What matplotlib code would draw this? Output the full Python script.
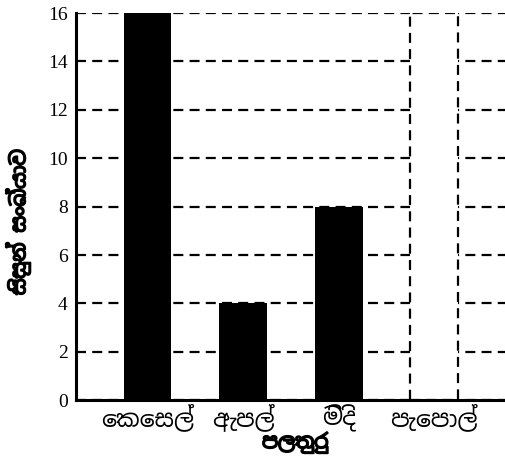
import matplotlib
matplotlib.use("Agg")
import matplotlib.pyplot as plt
import matplotlib.patheffects as pe
from matplotlib.font_manager import FontProperties

GF = "/usr/share/fonts/truetype/google-fonts/"
sin_reg = FontProperties(fname=GF + "NotoSansSinhala[wdth,wght].ttf", size=17)
sin_bold = FontProperties(fname=GF + "NotoSansSinhala[wdth,wght].ttf", size=14.5)
# the Sinhala file is a variable font, so bold is faked with a stroke
heavy = [pe.withStroke(linewidth=1.2, foreground="black")]

# matplotlib 3.10 does no complex shaping, so the prefix vowel signs
# (ෙ, and the ෙ part of ො) are written in visual order
fruits = ["ෙකෙසල්", "ඇපල්", "මිදි", "පැෙපාල්"]
counts = [16, 4, 8, 16]
# last bar is only an empty outline (to be filled in)
is_blank = [False, False, False, True]
y_ticks = [0, 2, 4, 6, 8, 10, 12, 14, 16]
x_title = "පලතුරු"
y_title = "සිසුන් සංඛ්යාව"

fig = plt.figure(figsize=(5.06, 4.68), dpi=100)
ax = fig.add_axes([0.150, 0.145, 0.850, 0.827])

dash = (0, (4.5, 2.8))
x = list(range(len(fruits)))
for i in x:
    if is_blank[i]:
        ax.bar(i, counts[i], width=0.5, facecolor="white", edgecolor="black",
               linestyle=dash, linewidth=1.6, zorder=3)
    else:
        ax.bar(i, counts[i], width=0.5, color="black", zorder=3)

ax.set_xlim(-0.75, 3.75)
ax.set_ylim(0, 16)
ax.set_yticks(y_ticks)
ax.set_yticklabels([str(t) for t in y_ticks], family="Liberation Serif", fontsize=14)
ax.set_xticks(x)
ax.set_xticklabels(fruits, fontproperties=sin_reg)
ax.tick_params(axis="y", length=0, pad=6)
ax.tick_params(axis="x", length=0, pad=3)

for t in y_ticks:
    ax.axhline(t, color="black", linestyle=dash, linewidth=1.6, zorder=1)

ax.spines["top"].set_visible(False)
ax.spines["right"].set_visible(False)
ax.spines["left"].set_linewidth(2.2)
ax.spines["bottom"].set_linewidth(2.2)
ax.spines["left"].set_zorder(4)
ax.spines["bottom"].set_zorder(4)

xl = ax.set_xlabel(x_title, fontproperties=sin_bold, va="center")
yl = ax.set_ylabel(y_title, fontproperties=sin_bold, va="center")
ax.xaxis.set_label_coords(0.51, -0.11)
ax.yaxis.set_label_coords(-0.135, 0.46)
xl.set_path_effects(heavy)
yl.set_path_effects(heavy)

fig.savefig("out.png")
